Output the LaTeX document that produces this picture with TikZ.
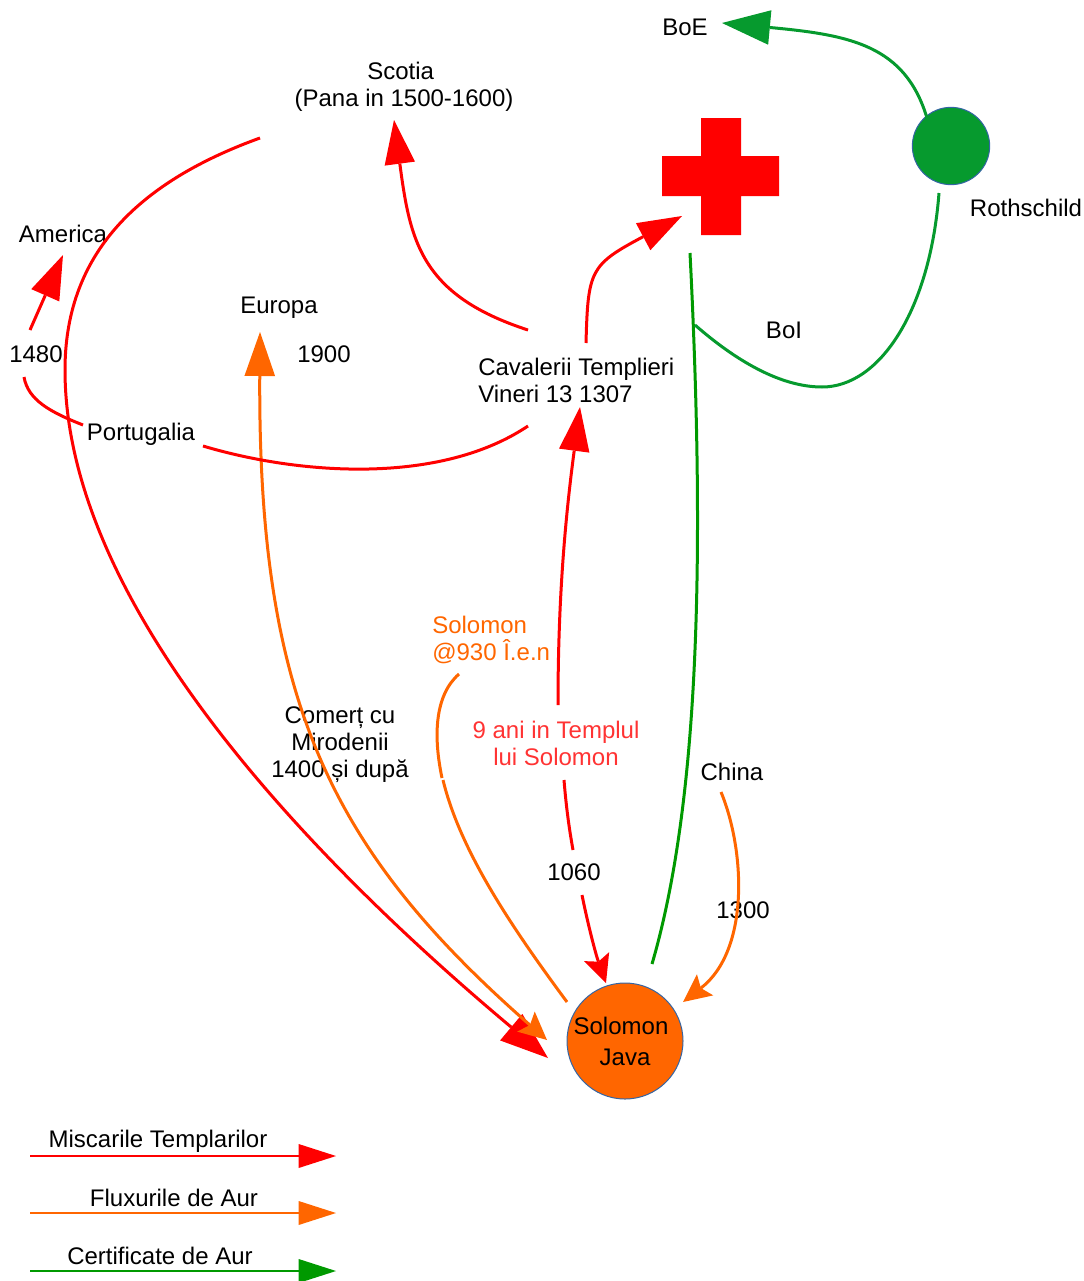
\documentclass[tikz,border=0pt]{standalone}
\usepackage{fontspec}
\setmainfont{Liberation Sans}
\usetikzlibrary{arrows.meta}
\definecolor{aur}{HTML}{FF6600}
\definecolor{verde}{HTML}{069A2E}
\definecolor{certif}{HTML}{009900}
\definecolor{contur}{HTML}{3465A4}
\definecolor{templu}{HTML}{FF3333}
\tikzset{
  txt/.style={inner sep=0pt,align=center,font=\fontsize{18}{20.25}\selectfont},
  redline/.style={red,line width=2.25pt},
  auline/.style={aur,line width=2.25pt},
  greenline/.style={verde,line width=2.25pt},
  big/.tip={Triangle[length=36pt,width=26pt,line width=0pt]},
  mid/.tip={Triangle[length=33pt,width=23pt,line width=0pt]},
  small/.tip={Stealth[length=21pt,width=20pt,inset=4pt,line width=0pt]},
  legend/.tip={Triangle[length=28pt,width=18pt,line width=0pt]}
}
\begin{document}
\begin{tikzpicture}[x=0.75pt,y=-0.75pt]
    \useasboundingbox (0,0) rectangle (1083,1281);

    \node[txt](boe) at (685,27){BoE};
    \node[txt](scotia) at (404,87){Scotia\hspace*{5pt}\\(Pana in 1500-1600)};
    \node[txt](america) at (63,234){America};
    \node[txt](europa) at (279,308){Europa};
    \node[txt](y1900) at (324,354){1900};
    \node[txt](y1480) at (36,354){1480};
    \node[txt](portugalia) at (141,434){Portugalia};
    \node[txt,align=left,anchor=west](templieri) at (478,380){Cavalerii Templieri\\Vineri 13 1307};
    \node[txt](boi) at (784,330){BoI};
    \node[txt](rothschild) at (1026,208){Rothschild};
    \node[txt,aur,align=left,anchor=west](solomon) at (432,640){Solomon\\@930 Î.e.n};
    \node[txt,templu](nineani) at (556,743){9 ani in Templul\\lui Solomon};
    \node[txt](comert) at (340,745){Comerț cu\\Mirodenii\hspace*{6pt}\\1400 și după};
    \node[txt](china) at (732,772){China};
    \node[txt](y1060) at (574,872){1060};
    \node[txt](y1300) at (743,910){1300};

    \node[circle,draw=contur,fill=aur,line width=0.75pt,minimum size=87pt,inner sep=0pt,
          align=center,font=\fontsize{18}{23.25}\selectfont](java) at (625,1041){Solomon\hspace*{6pt}\\Java};
    \node[circle,draw=contur,fill=verde,line width=0.75pt,minimum size=58pt,inner sep=0pt](roth) at (951,146){};

    % crucea
    \fill[red] (701,118) -- (741,118) -- (741,156) -- (779,156) -- (779,196) -- (741,196)
      -- (741,235) -- (701,235) -- (701,196) -- (662,196) -- (662,156) -- (701,156) -- cycle;

    % capete libere
    \coordinate (a0) at (260,138);
    \coordinate (a1) at (548,1058);
    \coordinate (b0) at (260,332);
    \coordinate (b1) at (547,1040);
    \coordinate (c0) at (528,330);
    \coordinate (c1) at (394,120);
    \coordinate (d0) at (586,343);
    \coordinate (d1) at (682,216);
    \coordinate (e0) at (528,426);
    \coordinate (e1) at (203,446);
    \coordinate (f0) at (83,425);
    \coordinate (f1) at (24,377);
    \coordinate (g0) at (30,330);
    \coordinate (g1) at (63,255);
    \coordinate (h0) at (558,705);
    \coordinate (h1) at (580,407);
    \coordinate (h2) at (564,780);
    \coordinate (h3) at (573,850);
    \coordinate (h4) at (582,895);
    \coordinate (h5) at (606,983);
    \coordinate (s0) at (459,674);
    \coordinate (s1) at (442,778);
    \coordinate (s2) at (443,780);
    \coordinate (s3) at (567,1002);
    \coordinate (c2) at (721,792);
    \coordinate (c3) at (683,1002);
    \coordinate (v0) at (690,253);
    \coordinate (v1) at (652,964);
    \coordinate (r0) at (939,193);
    \coordinate (r1) at (822,387);
    \coordinate (r2) at (695,325);
    \coordinate (r3) at (927,118);
    \coordinate (r4) at (722,23);

    \draw[redline,-big] (a0) .. controls (130,185) and (65,260) .. (65,370)
      .. controls (65,600) and (300,850) .. (a1);
    \draw[auline,mid-small] (b0) .. controls (258,700) and (330,850) .. (b1);
    \draw[redline,-mid] (c0) .. controls (420,295) and (410,240) .. (c1);
    \draw[redline,-mid] (d0) .. controls (588,270) and (590,265) .. (d1);
    \draw[redline] (e0) .. controls (440,485) and (300,475) .. (e1);
    \draw[redline] (f0) .. controls (50,412) and (28,400) .. (f1);
    \draw[redline,-mid] (g0) -- (g1);
    \draw[redline,-mid] (h0) .. controls (558,600) and (565,520) .. (h1);
    \draw[redline] (h2) .. controls (566,805) and (569,828) .. (h3);
    \draw[redline,-small] (h4) .. controls (588,925) and (596,955) .. (h5);
    \draw[auline] (s0) .. controls (435,695) and (433,735) .. (s1);
    \draw[auline] (s2) .. controls (460,850) and (510,925) .. (s3);
    \draw[auline,-small] (c2) .. controls (745,850) and (750,950) .. (c3);
    \draw[certif,line width=2.25pt] (v0) .. controls (705,550) and (700,800) .. (v1);
    \draw[greenline] (r0) .. controls (930,310) and (880,387) .. (r1)
      .. controls (780,387) and (735,360) .. (r2);
    \draw[greenline,-big] (r3) .. controls (905,45) and (850,35) .. (r4);

    % legenda
    \node[txt](l1) at (158,1141){Miscarile Templarilor};
    \node[txt](l2) at (174,1198){Fluxurile de Aur};
    \node[txt](l3) at (160,1256){Certificate de Aur};
    \coordinate (l1a) at (30,1156);
    \coordinate (l1b) at (336,1156);
    \coordinate (l2a) at (30,1213);
    \coordinate (l2b) at (336,1213);
    \coordinate (l3a) at (30,1271);
    \coordinate (l3b) at (336,1271);
    \draw[red,line width=1.5pt,-legend] (l1a) -- (l1b);
    \draw[aur,line width=1.5pt,-legend] (l2a) -- (l2b);
    \draw[certif,line width=1.5pt,-legend] (l3a) -- (l3b);

\end{tikzpicture}
\end{document}
